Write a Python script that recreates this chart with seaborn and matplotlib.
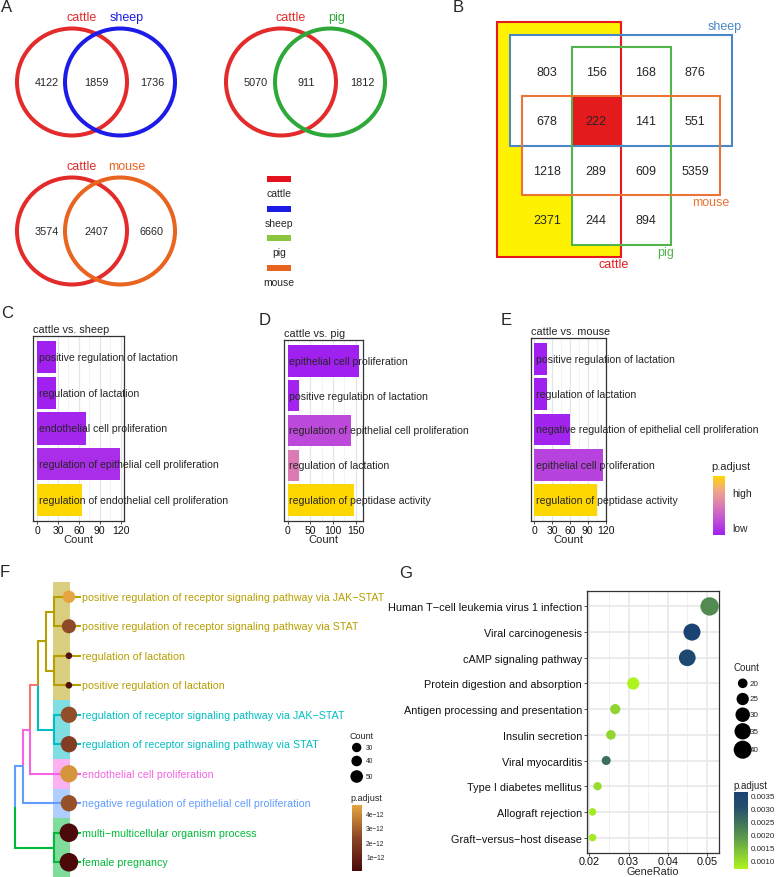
import numpy as np
import pandas as pd
import matplotlib
matplotlib.use("Agg")
import matplotlib.pyplot as plt
import seaborn as sns
from matplotlib.patches import Ellipse, Rectangle
from matplotlib.colors import LinearSegmentedColormap, Normalize
from matplotlib.cm import ScalarMappable
from matplotlib.ticker import MultipleLocator

sns.set_theme(style="white")
plt.rcParams["font.family"] = ["Liberation Sans", "DejaVu Sans"]

# ---------------- data ----------------
# A: pairwise venns (cattle only / shared / other only)
venn_other = ["sheep", "pig", "mouse"]
venn_cattle_only = [4122, 5070, 3574]
venn_shared = [1859, 911, 2407]
venn_other_only = [1736, 1812, 6660]
legend_species = ["cattle", "sheep", "pig", "mouse"]

# B: 4-set grid. rows: sheep only, sheep+mouse, mouse only, neither
#                cols: cattle only, cattle+pig, pig only, neither
grid_counts = [[803, 156, 168, 876],
               [678, 222, 141, 551],
               [1218, 289, 609, 5359],
               [2371, 244, 894, None]]

# C/D/E: GO bars (p.adjust as relative low..high)
go_titles = ["cattle vs. sheep", "cattle vs. pig", "cattle vs. mouse"]
go_c_terms = ["positive regulation of lactation", "regulation of lactation",
              "endothelial cell proliferation",
              "regulation of epithelial cell proliferation",
              "regulation of endothelial cell proliferation"]
go_c_count = [27, 27, 71, 119, 64]
go_c_padj = [0.0, 0.0, 0.03, 0.07, 1.0]
go_d_terms = ["epithelial cell proliferation", "positive regulation of lactation",
              "regulation of epithelial cell proliferation",
              "regulation of lactation", "regulation of peptidase activity"]
go_d_count = [158, 26, 140, 26, 147]
go_d_padj = [0.0, 0.02, 0.22, 0.5, 1.0]
go_e_terms = ["positive regulation of lactation", "regulation of lactation",
              "negative regulation of epithelial cell proliferation",
              "epithelial cell proliferation", "regulation of peptidase activity"]
go_e_count = [22, 22, 60, 115, 106]
go_e_padj = [0.0, 0.0, 0.02, 0.18, 1.0]

# F: tree plot
tree_terms = ["positive regulation of receptor signaling pathway via JAK\u2212STAT",
              "positive regulation of receptor signaling pathway via STAT",
              "regulation of lactation",
              "positive regulation of lactation",
              "regulation of receptor signaling pathway via JAK\u2212STAT",
              "regulation of receptor signaling pathway via STAT",
              "endothelial cell proliferation",
              "negative regulation of epithelial cell proliferation",
              "multi\u2212multicellular organism process",
              "female pregnancy"]
tree_count = [33, 38, 20, 20, 46, 46, 50, 46, 55, 55]
tree_padj = [4.6e-12, 2.4e-12, 0.3e-12, 0.3e-12, 2.5e-12, 2.0e-12, 4.2e-12, 2.6e-12, 0.05e-12, 0.05e-12]
tree_cluster = ["c1", "c1", "c1", "c1", "c2", "c2", "c3", "c4", "c5", "c5"]
# merges: (node, child a, child b, depth, group)
tree_merges = [("n12", 0, 1, 5, "c1"), ("n34", 2, 3, 5, "c1"), ("n56", 4, 5, 5, "c2"),
               ("n910", 8, 9, 5, "c5"), ("ng", "n12", "n34", 4, "c1"),
               ("ngc", "ng", "n56", 3, "root"), ("ngcp", "ngc", 6, 2, "c3"),
               ("ngcpb", "ngcp", 7, 1, "c4"), ("root", "ngcpb", "n910", 0, "root")]
cluster_colors = {"root": "#F8766D", "c1": "#B79F00", "c2": "#00BFC4",
                  "c3": "#F564E3", "c4": "#619CFF", "c5": "#00BA38"}

# G: KEGG dot plot
kegg_terms = ["Human T\u2212cell leukemia virus 1 infection", "Viral carcinogenesis",
              "cAMP signaling pathway", "Protein digestion and absorption",
              "Antigen processing and presentation", "Insulin secretion",
              "Viral myocarditis", "Type I diabetes mellitus",
              "Allograft rejection", "Graft\u2212versus\u2212host disease"]
kegg_ratio = [0.0507, 0.0462, 0.0450, 0.0312, 0.0266, 0.0255, 0.0243, 0.0221, 0.0208, 0.0208]
kegg_count = [41, 37, 36, 25, 21, 20, 19, 18, 17, 17]
kegg_padj = [0.0021, 0.00364, 0.0034, 0.00067, 0.0011, 0.0011, 0.0025, 0.0010, 0.0008, 0.0008]

# ---------------- figure ----------------
W, H = 778, 878
fig = plt.figure(figsize=(W / 100, H / 100), dpi=100)


def px_axes(x0, y0, x1, y1):
    return fig.add_axes([x0 / W, 1 - y1 / H, (x1 - x0) / W, (y1 - y0) / H])


cmap_go = LinearSegmentedColormap.from_list(
    "go", ["#A020F0", "#C04FD6", "#DC7AB4", "#F0A68A", "#FFD700"])
cmap_tree = LinearSegmentedColormap.from_list("tr", ["#4a0909", "#8a4526", "#e6a541"])
cmap_kegg = LinearSegmentedColormap.from_list(
    "kg", ["#ADF41F", "#86CB36", "#5F9A4C", "#3F735A", "#264F6E", "#1A4373"])

# --- B: four-set grid ---
axB = px_axes(470, 0, 778, 300)
bx0, bw, by0, bh = 522, 49.5, 48, 49.4
axB.set_xlim((470 - bx0) / bw, (778 - bx0) / bw)
axB.set_ylim((300 - by0) / bh, (0 - by0) / bh)
axB.axis("off")
set_boxes = {"cattle": (-0.5, -0.5, 2.0, 4.25), "sheep": (-0.25, -0.25, 4.25, 2.0),
             "mouse": (0, 1, 4, 3), "pig": (1, 0, 3, 4)}
box_colors = {"cattle": "#e41a1c", "sheep": "#4a87c5", "mouse": "#ea7436", "pig": "#52b44b"}
x0, y0, x1, y1 = set_boxes["cattle"]
axB.add_patch(Rectangle((x0, y0), x1 - x0, y1 - y0, facecolor="#fff200", edgecolor="none"))
for s in ["sheep", "mouse", "pig"]:
    x0, y0, x1, y1 = set_boxes[s]
    axB.add_patch(Rectangle((x0, y0), x1 - x0, y1 - y0, facecolor="white", edgecolor="none"))
axB.add_patch(Rectangle((1, 1), 1, 1, facecolor="#e41a1c", edgecolor="none"))
for s in ["cattle", "sheep", "pig", "mouse"]:
    x0, y0, x1, y1 = set_boxes[s]
    axB.add_patch(Rectangle((x0, y0), x1 - x0, y1 - y0, facecolor="none",
                            edgecolor=box_colors[s], lw=1.5, zorder=3))
for r, row in enumerate(grid_counts):
    for c, v in enumerate(row):
        if v is not None:
            axB.text(c + 0.5, r + 0.5, str(v), ha="center", va="center", fontsize=9, zorder=4)
axB.text(4.44, -0.43, "sheep", color=box_colors["sheep"], ha="right", va="center", fontsize=9)
axB.text(4.2, 3.14, "mouse", color=box_colors["mouse"], ha="right", va="center", fontsize=9)
axB.text(2.91, 4.15, "pig", color=box_colors["pig"], ha="center", va="center", fontsize=9)
axB.text(1.86, 4.39, "cattle", color=box_colors["cattle"], ha="center", va="center", fontsize=9)

# --- C / D / E: GO bars ---
go_sets = [(go_c_terms, go_c_count, go_c_padj, (33, 337, 124, 522), 30),
           (go_d_terms, go_d_count, go_d_padj, (284, 341, 363, 522), 50),
           (go_e_terms, go_e_count, go_e_padj, (531, 339, 606, 522), 30)]
for title, (terms, counts, padj, box, step) in zip(go_titles, go_sets):
    ax = px_axes(*box)
    cols = [cmap_go(v) for v in padj]
    sns.barplot(x=counts, y=terms, hue=terms, palette=cols, legend=False, orient="h",
                width=0.9, saturation=1, linewidth=0, ax=ax)
    top = max(counts)
    ax.set_xlim(-0.05 * top, 1.05 * top)
    ax.set_ylim(len(terms) - 0.4, -0.6)
    ax.xaxis.set_major_locator(MultipleLocator(step))
    ax.xaxis.set_minor_locator(MultipleLocator(step / 2))
    ax.grid(True, axis="x", which="major", color="#e6e6e6", lw=0.9)
    ax.grid(True, axis="x", which="minor", color="#eeeeee", lw=0.5)
    ax.set_axisbelow(True)
    ax.set_yticks([])
    ax.set_ylabel("")
    for sp in ax.spines.values():
        sp.set_color("#333333")
        sp.set_linewidth(0.9)
    ax.tick_params(axis="x", which="major", bottom=True, length=2.5, width=0.6,
                   color="#333333", labelsize=7.5, pad=0.5, labelcolor="#111111")
    ax.tick_params(axis="x", which="minor", bottom=False)
    ax.set_xlabel("Count", fontsize=8, labelpad=-0.5)
    ax.set_title(title, loc="left", fontsize=7.8, pad=3)
    for i, t in enumerate(terms):
        ax.annotate(t, xy=(0, i), xytext=(1, 0), textcoords="offset points",
                    ha="left", va="center", fontsize=7.6, annotation_clip=False)

cax = px_axes(713, 477, 725, 536)
cb = fig.colorbar(ScalarMappable(norm=Normalize(0, 1), cmap=cmap_go), cax=cax,
                  ticks=[0.136, 0.73])
cb.outline.set_visible(False)
cax.set_yticklabels(["low", "high"])
cax.tick_params(length=2.5, width=0.8, color="white", direction="in", labelsize=7.5, pad=5)

# --- F: tree plot ---
fx_px0, fx_step = 15, 7.7
axF = px_axes(0, 583, 390, 878)
tip_depth, label_depth = 7.0, 8.6
leaf_y = np.arange(len(tree_terms))
axF.barh(leaf_y, width=2.2, left=4.95, height=1.0,
         color=[cluster_colors[c] for c in tree_cluster], alpha=0.5, linewidth=0, zorder=1)
node_y = {i: float(i) for i in range(len(tree_terms))}
node_x = {i: tip_depth for i in range(len(tree_terms))}
node_grp = {i: tree_cluster[i] for i in range(len(tree_terms))}
for name, a, b, depth, grp in tree_merges:
    node_y[name] = (node_y[a] + node_y[b]) / 2
    node_x[name] = depth
    node_grp[name] = grp
    for ch in (a, b):
        x_end = label_depth if isinstance(ch, int) else node_x[ch]
        axF.plot([depth, depth, x_end], [node_y[name], node_y[ch], node_y[ch]],
                 color=cluster_colors[node_grp[ch]], lw=1.5, zorder=2,
                 solid_joinstyle="miter", solid_capstyle="butt")
tree_df = pd.DataFrame({"x": [tip_depth] * len(tree_terms), "y": leaf_y,
                        "Count": tree_count, "p.adjust": tree_padj})
sns.scatterplot(data=tree_df, x="x", y="y", size="Count", sizes=(23, 179), size_norm=(20, 55),
                hue="p.adjust", palette=cmap_tree, hue_norm=(0, 4.6e-12), legend=False,
                edgecolor="none", zorder=3, ax=axF)
axF.set_xlim((0 - fx_px0) / fx_step, (390 - fx_px0) / fx_step)
axF.set_ylim(len(tree_terms) - 0.5, -0.5)
axF.axis("off")
for i, t in enumerate(tree_terms):
    axF.text(label_depth + 0.1, i, t, color=cluster_colors[tree_cluster[i]],
             fontsize=7.7, ha="left", va="center")

cax = px_axes(352, 806, 362, 872)
cb = fig.colorbar(ScalarMappable(norm=Normalize(0, 4.6e-12), cmap=cmap_tree), cax=cax,
                  ticks=[1e-12, 2e-12, 3e-12, 4e-12])
cb.outline.set_visible(False)
cax.set_yticklabels(["1e\u221212", "2e\u221212", "3e\u221212", "4e\u221212"])
cax.tick_params(length=2, width=0.6, color="white", direction="in", labelsize=4.8, pad=3)

# --- G: KEGG dot plot ---
axG = px_axes(587, 592, 719, 854)
kegg_df = pd.DataFrame({"term": kegg_terms, "GeneRatio": kegg_ratio,
                        "Count": kegg_count, "p.adjust": kegg_padj})
sns.scatterplot(data=kegg_df, x="GeneRatio", y="term", size="Count", sizes=(30, 175),
                size_norm=(17, 41), hue="p.adjust", palette=cmap_kegg,
                hue_norm=(0.00067, 0.00364), legend=False, edgecolor="none", zorder=3, ax=axG)
axG.set_xlim(0.0194, 0.0531)
axG.set_ylim(len(kegg_terms) - 0.4, -0.6)
axG.xaxis.set_major_locator(MultipleLocator(0.01))
axG.xaxis.set_minor_locator(MultipleLocator(0.005))
axG.grid(True, which="major", color="#e6e6e6", lw=1.1)
axG.grid(True, axis="x", which="minor", color="#efefef", lw=0.6)
axG.set_axisbelow(True)
for sp in axG.spines.values():
    sp.set_color("#333333")
    sp.set_linewidth(0.9)
axG.tick_params(axis="both", which="major", bottom=True, left=True, length=2.5, width=0.6,
                color="#333333", labelsize=7.8, pad=1, labelcolor="#111111")
axG.tick_params(axis="x", labelsize=7.8, length=2, pad=0)
axG.tick_params(which="minor", bottom=False, left=False)
axG.set_xlabel("")
axG.set_ylabel("")

cax = px_axes(734, 793, 748, 870)
cb = fig.colorbar(ScalarMappable(norm=Normalize(0.00067, 0.00364), cmap=cmap_kegg), cax=cax,
                  ticks=[0.001, 0.0015, 0.002, 0.0025, 0.003, 0.0035])
cb.outline.set_visible(False)
cax.set_yticklabels(["0.0010", "0.0015", "0.0020", "0.0025", "0.0030", "0.0035"])
cax.tick_params(length=2.5, width=0.6, color="white", direction="in", labelsize=5.8, pad=2)

# --- overlay: panel A, legends, letters (pixel coordinates) ---
lay = px_axes(0, 0, W, H)
lay.set_xlim(0, W)
lay.set_ylim(H, 0)
lay.axis("off")

species_colors = {"cattle": "#e32b2b", "sheep": "#1c1ce6", "pig": "#2fa83a", "mouse": "#e8641f"}
swatch_colors = {"cattle": "#e3121c", "sheep": "#1c1ce6", "pig": "#8cc63f", "mouse": "#e8641f"}
venn_pos = [(72, 120, 83), (281, 330, 83), (72, 120, 232)]
for k, other in enumerate(venn_other):
    xa, xb, yc = venn_pos[k]
    for xc, sp in [(xa, "cattle"), (xb, other)]:
        lay.add_patch(Ellipse((xc, yc), 110, 107, facecolor="none",
                              edgecolor=species_colors[sp], lw=2.9))
    lay.text(xa - 25, yc, str(venn_cattle_only[k]), ha="center", va="center", fontsize=7.8)
    lay.text((xa + xb) / 2 + 0.5, yc, str(venn_shared[k]), ha="center", va="center", fontsize=7.8)
    lay.text(xb + 32, yc, str(venn_other_only[k]), ha="center", va="center", fontsize=7.8)
    lay.text(xa + 10, yc - 65, "cattle", color=species_colors["cattle"], ha="center",
             va="center", fontsize=9)
    lay.text(xb + 7, yc - 65, other, color=species_colors[other], ha="center",
             va="center", fontsize=9)
for k, sp in enumerate(legend_species):
    yy = 180 + 29.7 * k
    lay.add_patch(Rectangle((267, yy - 3), 24, 6, facecolor=swatch_colors[sp], edgecolor="none"))
    lay.text(279, yy + 14, sp, ha="center", va="center", fontsize=7.5)

# G x-axis title (kept inside the canvas)
lay.text(653, 877.5, "GeneRatio", fontsize=7.8, ha="center", va="bottom")

# F legend
lay.text(350, 737, "Count", fontsize=6.5, va="center", ha="left")
f_leg_r = {30: 4.7, 40: 5.3, 50: 6.3}
for v, yy in zip([30, 40, 50], [748.5, 762, 777.5]):
    lay.scatter([356.7], [yy], s=(2 * f_leg_r[v] * 0.72) ** 2, color="black", edgecolor="none")
    lay.text(366, yy, str(v), fontsize=4.8, va="center", ha="left")
lay.text(350, 799, "p.adjust", fontsize=6.5, va="center", ha="left")

# G legend
lay.text(734, 668, "Count", fontsize=7, va="center", ha="left")
for v, yy in zip([20, 25, 30, 35, 40], [684.3, 700, 715.7, 732.3, 750.7]):
    s = 30 + (v - 17) / (41 - 17) * (175 - 30)
    lay.scatter([742.7], [yy], s=s, color="black", edgecolor="none")
    lay.text(750, yy, str(v), fontsize=5.8, va="center", ha="left")
lay.text(733, 786, "p.adjust", fontsize=7, va="center", ha="left")

# E legend title
lay.text(711, 467, "p.adjust", fontsize=8, va="center", ha="left")

# panel letters
for letter, (lx, ly) in {"A": (7, 8), "B": (458, 8), "C": (7, 314), "D": (265, 321),
                         "E": (506, 321), "F": (5, 573), "G": (406, 574)}.items():
    lay.text(lx, ly, letter, fontsize=12, ha="center", va="center")

fig.savefig("out.png", dpi=100)
